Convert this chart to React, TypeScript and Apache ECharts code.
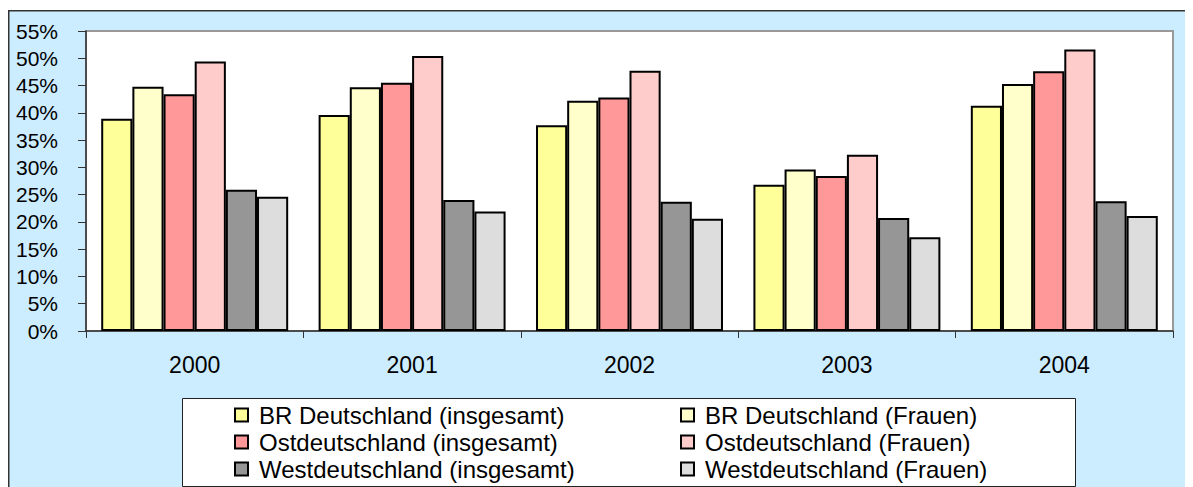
import React, { useEffect, useRef } from "react";
import * as echarts from "echarts";

const years = ["2000", "2001", "2002", "2003", "2004"];
const seriesNames = [
  "BR Deutschland (insgesamt)",
  "BR Deutschland (Frauen)",
  "Ostdeutschland (insgesamt)",
  "Ostdeutschland (Frauen)",
  "Westdeutschland (insgesamt)",
  "Westdeutschland (Frauen)",
];
const brInsgesamt = [38.9, 39.6, 37.7, 26.8, 41.3];
const brFrauen = [44.8, 44.7, 42.2, 29.6, 45.3];
const ostInsgesamt = [43.4, 45.5, 42.8, 28.4, 47.6];
const ostFrauen = [49.4, 50.4, 47.7, 32.3, 51.6];
const westInsgesamt = [25.9, 24.0, 23.7, 20.7, 23.8];
const westFrauen = [24.6, 21.9, 20.6, 17.2, 21.1];
const yTicks = { min: 0, max: 55, interval: 5 };

const colors = ["#FFFF99", "#FFFFCC", "#FF9999", "#FFCCCC", "#969696", "#DDDDDD"];
const FONT = "'Liberation Sans', Arial, sans-serif";

export default function App() {
  const ref = useRef<HTMLDivElement>(null);
  useEffect(() => {
    if (!ref.current) return;
    const chart = echarts.init(ref.current, undefined, { renderer: "svg" });
    const allData = [brInsgesamt, brFrauen, ostInsgesamt, ostFrauen, westInsgesamt, westFrauen];
    const legendText = { color: "#000", fontSize: 24, fontFamily: FONT, lineHeight: 24, padding: [0, 0, 0, 6] };
    const legendCommon = {
      orient: "vertical",
      top: 395,
      padding: 0,
      itemWidth: 13,
      itemHeight: 13,
      itemGap: 3,
      icon: "rect",
      itemStyle: { borderColor: "#000", borderWidth: 2 },
      textStyle: legendText,
    };
    chart.setOption({
      animation: false,
      backgroundColor: "transparent",
      graphic: [
        {
          type: "rect",
          z: -10,
          silent: true,
          shape: { x: 0.75, y: 2.75, width: 1300, height: 700 },
          style: { fill: "#CCECFF", stroke: "#333", lineWidth: 1.5 },
        },
        {
          type: "rect",
          z: -5,
          silent: true,
          shape: { x: 174.5, y: 390.5, width: 893, height: 88 },
          style: { fill: "#fff", stroke: "#222", lineWidth: 1 },
        },
      ],
      grid: {
        left: 78,
        top: 23,
        width: 1087,
        height: 300,
        show: true,
        backgroundColor: "#fff",
        borderColor: "#999",
        borderWidth: 2,
      },
      legend: [
        { ...legendCommon, data: [seriesNames[0], seriesNames[2], seriesNames[4]], left: 226 },
        { ...legendCommon, data: [seriesNames[1], seriesNames[3], seriesNames[5]], left: 672 },
      ],
      xAxis: {
        type: "category",
        data: years,
        axisLine: { lineStyle: { color: "#333", width: 1.5 } },
        axisTick: { show: true, length: 7, lineStyle: { color: "#333" } },
        axisLabel: { color: "#000", fontSize: 23, fontFamily: FONT, margin: 22 },
      },
      yAxis: {
        type: "value",
        min: yTicks.min,
        max: yTicks.max,
        interval: yTicks.interval,
        axisLine: { show: true, lineStyle: { color: "#333", width: 1.5 } },
        axisTick: { show: true, length: 8, lineStyle: { color: "#333" } },
        splitLine: { show: false },
        axisLabel: {
          color: "#000",
          fontSize: 21,
          fontFamily: FONT,
          margin: 28,
          formatter: "{value}%",
        },
      },
      series: seriesNames.map((name, i) => ({
        name,
        type: "bar",
        data: allData[i],
        barGap: "0%",
        barCategoryGap: "14%",
        itemStyle: { color: colors[i], borderColor: "#000", borderWidth: 2 },
      })),
    });
    return () => chart.dispose();
  }, []);
  return <div ref={ref} style={{ width: 1185, height: 479 }} />;
}
